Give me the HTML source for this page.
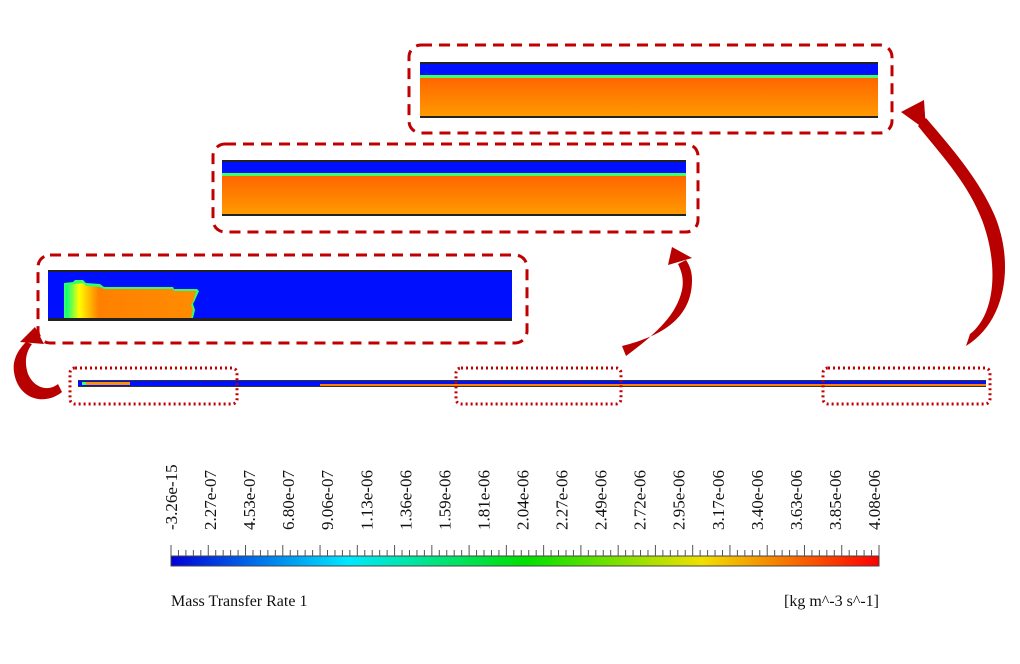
<!DOCTYPE html>
<html><head><meta charset="utf-8"><style>
body{margin:0;background:#fff;width:1020px;height:664px;overflow:hidden;font-family:"Liberation Serif",serif}
svg{position:absolute;left:0;top:0}
</style></head><body>
<svg width="1020" height="664" viewBox="0 0 1020 664">
<defs>
<linearGradient id="cb" x1="0" x2="1">
<stop offset="0" stop-color="#0000d8"/><stop offset="0.25" stop-color="#00e8ff"/>
<stop offset="0.5" stop-color="#00e000"/><stop offset="0.75" stop-color="#f0e000"/>
<stop offset="1" stop-color="#ff0000"/></linearGradient>
<linearGradient id="or" x1="0" y1="0" x2="0" y2="1">
<stop offset="0" stop-color="#ff5000"/><stop offset="1" stop-color="#ff9c00"/></linearGradient>
<linearGradient id="fr" x1="0" x2="1">
<stop offset="0" stop-color="#00ff80"/><stop offset="0.1" stop-color="#ffff00"/><stop offset="0.25" stop-color="#ff8000"/><stop offset="1" stop-color="#ff8c00"/></linearGradient>
</defs>
<rect x="409" y="45" width="483" height="88" rx="12" fill="none" stroke="#c00000" stroke-width="3" stroke-dasharray="11,7"/>
<rect x="420" y="62" width="458" height="56" fill="url(#or)"/>
<rect x="420" y="62" width="458" height="14" fill="#0010ff"/>
<rect x="420" y="75" width="458" height="3" fill="#40ff60"/>
<rect x="420" y="62" width="458" height="2" fill="#222"/>
<rect x="420" y="116" width="458" height="2" fill="#222"/>
<rect x="213" y="144" width="485" height="88" rx="12" fill="none" stroke="#c00000" stroke-width="3" stroke-dasharray="11,7"/>
<rect x="222" y="160" width="464" height="56" fill="url(#or)"/>
<rect x="222" y="160" width="464" height="14" fill="#0010ff"/>
<rect x="222" y="173" width="464" height="3" fill="#40ff60"/>
<rect x="222" y="160" width="464" height="2" fill="#222"/>
<rect x="222" y="214" width="464" height="2" fill="#222"/>
<rect x="38" y="255" width="489" height="88" rx="12" fill="none" stroke="#c00000" stroke-width="3" stroke-dasharray="11,7"/>
<rect x="48" y="270" width="464" height="51" fill="#0010ff"/>
<polygon points="64,318 64,283 73,282 75,280 83,280 86,283 100,284 104,287 173,287 174,289 197,289 199,291 195,300 193,304 195,310 193,318" fill="#33ff66"/>
<polygon points="66,318 66,285 75,284 83,283 86,286 100,287 104,289 173,289 174,291 196,291 193,302 191,305 193,310 191,318" fill="url(#fr)"/>
<rect x="48" y="270" width="464" height="2" fill="#222"/>
<rect x="48" y="318" width="464" height="3" fill="#222"/>
<rect x="78" y="381" width="908" height="5" fill="#0010ff"/>
<rect x="320" y="384" width="666" height="2" fill="#ff8000"/>
<rect x="86" y="382" width="44" height="3" fill="#ff9000"/>
<rect x="82" y="382" width="4" height="3" fill="#40ff60"/>
<rect x="78" y="380" width="908" height="1" fill="#333"/>
<rect x="78" y="386" width="908" height="1" fill="#333"/>
<g fill="none" stroke="#c00000" stroke-width="3" stroke-dasharray="2,3">
<rect x="70" y="368" width="167" height="36" rx="5"/>
<rect x="456" y="368" width="165" height="36" rx="5"/>
<rect x="823" y="368" width="167" height="36" rx="5"/>
</g>
<g fill="#b80000">
<path d="M62,392 C45,406 18,400 14,372 C12,358 20,348 26,342 L32,344 C26,352 24,362 28,374 C34,388 48,392 58,384 Z"/>
<polygon points="35,327 20,342 44,344"/>
<path d="M622,346 C662,336 692,318 692,280 C692,272 690,266 686,260 L678,264 C682,272 684,280 682,290 C676,318 650,338 626,356 Z"/>
<polygon points="672,247 668,265 692,258"/>
<path d="M966,346 C1008,320 1014,260 994,214 C978,178 950,146 926,118 L918,126 C944,158 968,184 982,220 C1000,268 994,316 970,334 Z"/>
<polygon points="901,112 924,100 926,130"/>
</g>
<rect x="171" y="556" width="708" height="10" fill="url(#cb)" stroke="#444" stroke-width="1"/>
<line x1="171" y1="556" x2="879" y2="556" stroke="#444"/>
<g id="ticks" stroke="#555" stroke-width="1"></g>
<g font-size="17" fill="#111" font-family="Liberation Serif,serif" id="lbl"></g>
<text x="171" y="606" font-size="16" fill="#111">Mass Transfer Rate 1</text>
<text x="879" y="606" font-size="16" fill="#111" text-anchor="end">[kg m^-3 s^-1]</text>
</svg>
<script>
var t=document.getElementById('ticks'),s='';
for(var i=0;i<=95;i++){var x=171+i*708/95;var h=(i%5==0)?11:6;s+='<line x1="'+x+'" y1="'+(556-h)+'" x2="'+x+'" y2="556"/>';}
t.innerHTML=s;
var L=["-3.26e-15","2.27e-07","4.53e-07","6.80e-07","9.06e-07","1.13e-06","1.36e-06","1.59e-06","1.81e-06","2.04e-06","2.27e-06","2.49e-06","2.72e-06","2.95e-06","3.17e-06","3.40e-06","3.63e-06","3.85e-06","4.08e-06"];
var g=document.getElementById('lbl'),u='';
for(var j=0;j<L.length;j++){var x=177+j*(879-176)/18;u+='<text transform="translate('+x+',530) rotate(-90)">'+L[j]+'</text>';}
g.innerHTML=u;
</script>
</body></html>
